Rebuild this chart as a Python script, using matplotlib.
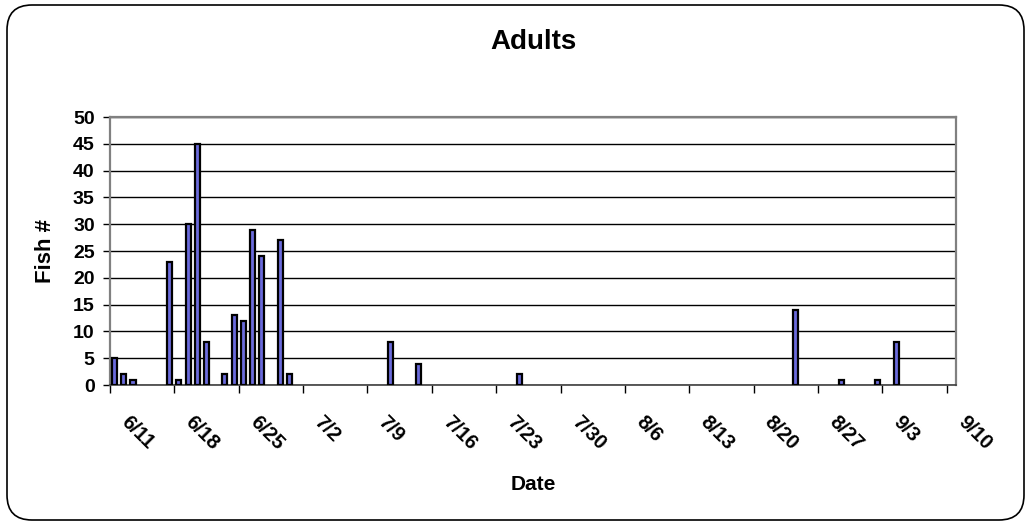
"""Adult fish counts by sample date."""

from datetime import datetime, timedelta

import matplotlib

matplotlib.use("Agg")
import matplotlib.dates as mdates
import matplotlib.pyplot as plt
from matplotlib.patches import FancyBboxPatch
from matplotlib.transforms import IdentityTransform, ScaledTranslation

plt.rcParams["font.family"] = ["Liberation Sans", "DejaVu Sans"]
plt.rcParams["font.weight"] = "bold"

YEAR = 2007
sample_dates = [
    "6/11", "6/12", "6/13", "6/17", "6/18", "6/19", "6/20", "6/21",
    "6/23", "6/24", "6/25", "6/26", "6/27", "6/29", "6/30",
    "7/11", "7/14", "7/25", "8/24", "8/29", "9/2", "9/4",
]
fish_counts = [
    5, 2, 1, 23, 1, 30, 45, 8,
    2, 13, 12, 29, 24, 27, 2,
    8, 4, 2, 14, 1, 1, 8,
]
axis_start = "6/11"
axis_end = "9/11"
n_weeks = 13
y_ticks = [0, 5, 10, 15, 20, 25, 30, 35, 40, 45, 50]


def to_date(md):
    m, d = md.split("/")
    return datetime(YEAR, int(m), int(d))


dates = [to_date(s) for s in sample_dates]
# each day's bar sits in the middle of its day slot
centers = [d + timedelta(hours=12) for d in dates]
week_ticks = [to_date(axis_start) + timedelta(days=7 * k) for k in range(n_weeks + 1)]

fig = plt.figure(figsize=(10.31, 5.25), dpi=100)
ax = fig.add_axes([110 / 1031, 1 - 385 / 525, (956 - 110) / 1031, (385 - 117) / 525])

ax.bar(centers, fish_counts, width=0.55, color="#6b6bdc",
       edgecolor="black", linewidth=1.6, zorder=3)

ax.set_xlim(to_date(axis_start), to_date(axis_end))
ax.set_ylim(0, 50)
ax.set_yticks(y_ticks)
ax.yaxis.grid(True, color="black", linewidth=1.0, zorder=0)

ax.set_xticks(week_ticks)
ax.xaxis.set_major_formatter(
    matplotlib.ticker.FuncFormatter(
        lambda v, _: f"{mdates.num2date(v).month}/{mdates.num2date(v).day}"
    )
)
ax.tick_params(axis="y", direction="out", length=5, width=1, color="black",
               labelsize=14, pad=6)
ax.tick_params(axis="x", direction="out", length=6, width=1, color="black",
               labelsize=14.5, pad=10)

# push the slanted date labels down and to the right of their ticks
shift = ScaledTranslation(0.14, -0.12, fig.dpi_scale_trans)
for lbl in ax.get_xticklabels():
    lbl.set_rotation(-45)
    lbl.set_ha("left")
    lbl.set_va("center")
    lbl.set_rotation_mode("anchor")
    lbl.set_fontweight("bold")
    lbl.set_transform(lbl.get_transform() + shift)
for lbl in ax.get_yticklabels():
    lbl.set_fontweight("bold")

for side in ["left", "top", "right"]:
    ax.spines[side].set_color("#808080")
    ax.spines[side].set_linewidth(1.6)
ax.spines["bottom"].set_color("#404040")
ax.spines["bottom"].set_linewidth(1.2)
ax.set_facecolor("white")

fig.text(0.517, 0.92, "Adults", ha="center", va="center",
         fontsize=20, fontweight="bold")
fig.text(0.517, 1 - 485 / 525, "Date", ha="center", va="center",
         fontsize=15, fontweight="bold")
fig.text(45 / 1031, 1 - 251 / 525, "Fish #", ha="center", va="center",
         rotation=90, fontsize=16, fontweight="bold")

# rounded chart-area border, drawn in pixel space
border = FancyBboxPatch((7, 5), 1017, 515,
                        boxstyle="round,pad=0,rounding_size=25",
                        transform=IdentityTransform(), facecolor="none",
                        edgecolor="black", linewidth=1.2)
fig.patches.append(border)

fig.savefig("out.png", dpi=100)
plt.close(fig)
